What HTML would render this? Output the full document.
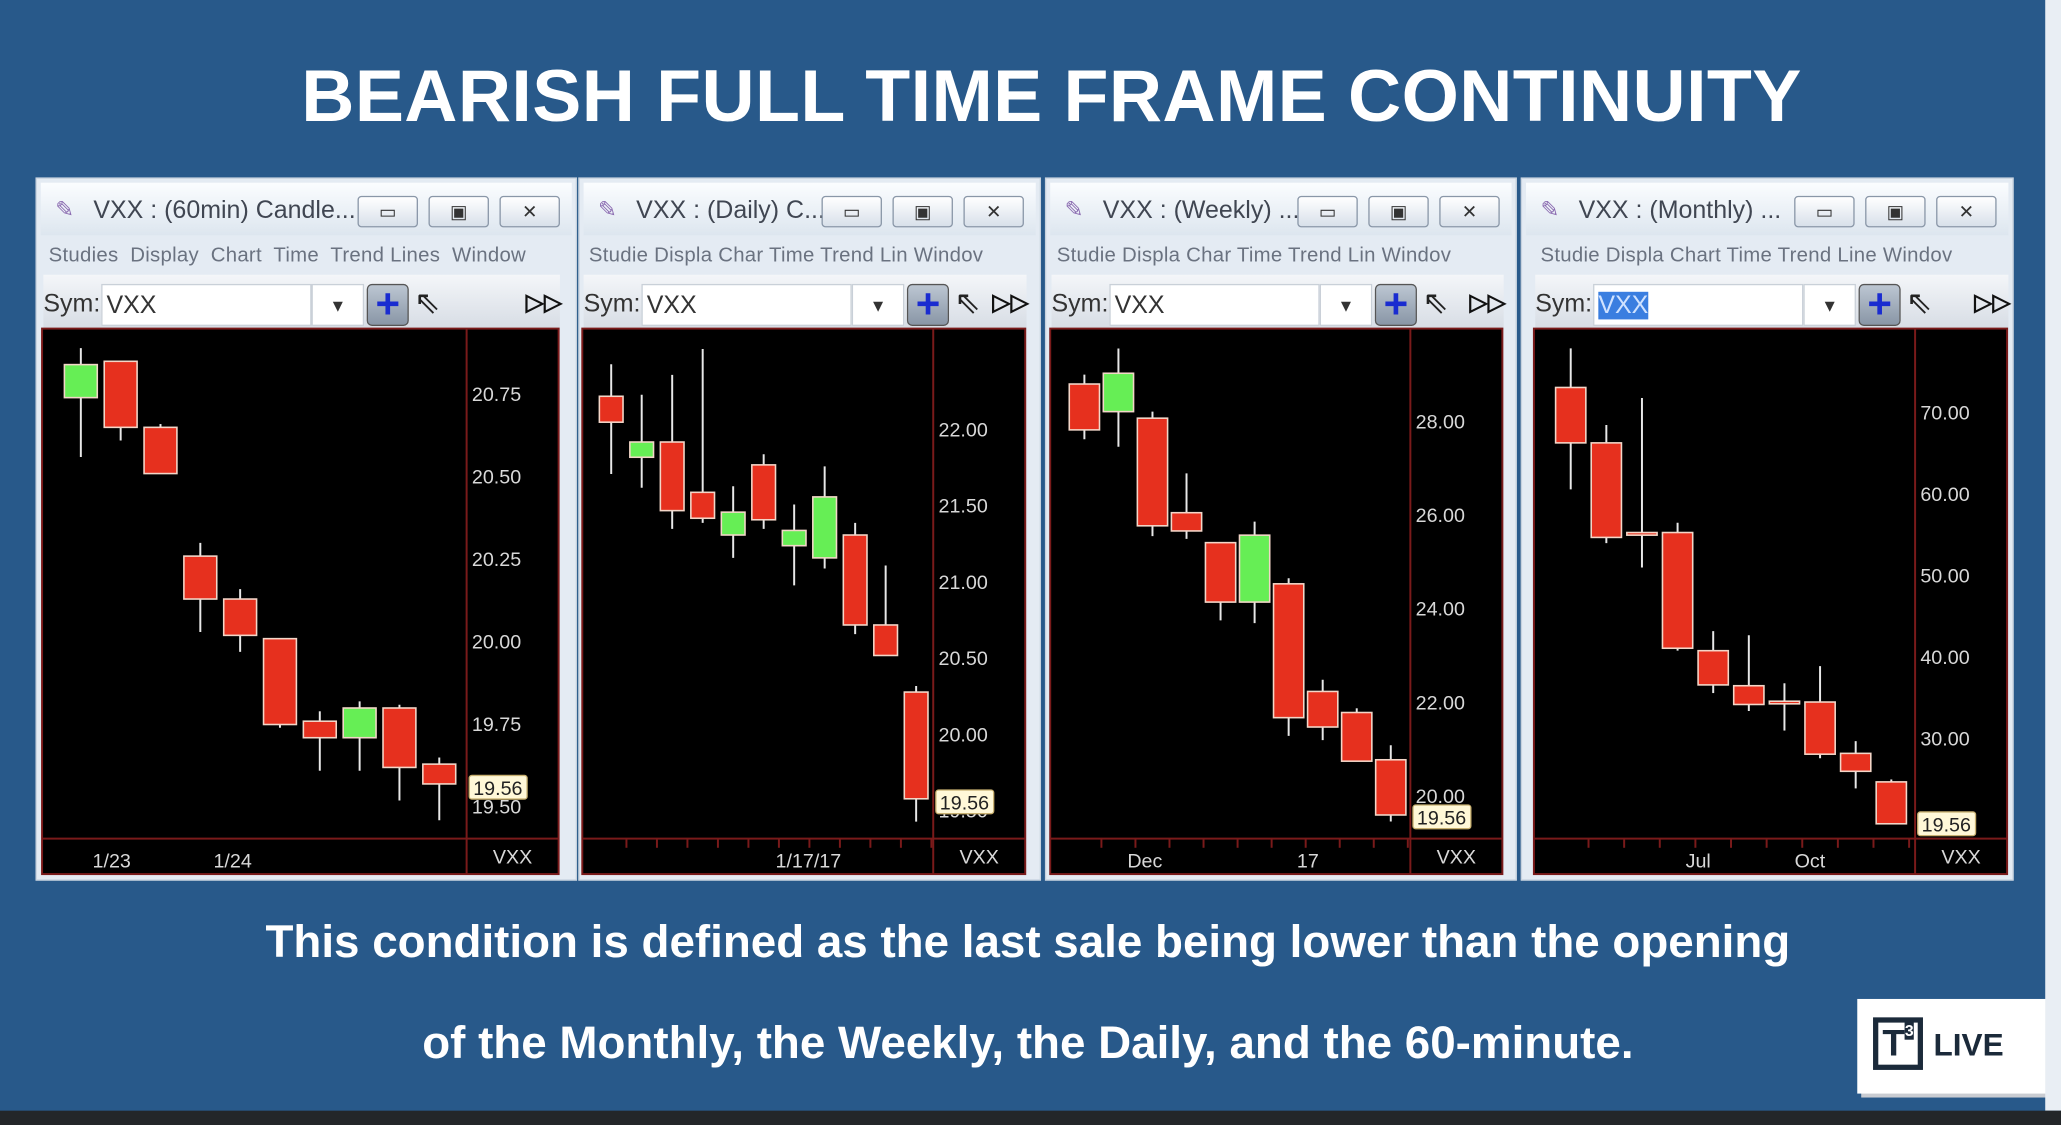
<!DOCTYPE html>
<html><head><meta charset="utf-8">
<style>
html,body{margin:0;padding:0;width:2061px;height:1125px;overflow:hidden;background:#28598a;}
#stage{position:absolute;left:0;top:0;width:1568px;height:856px;transform:scale(1.31441);transform-origin:0 0;background:#28598a;font-family:"Liberation Sans",sans-serif;}
.abs{position:absolute;}
.title{left:0;width:1600px;top:40px;text-align:center;color:#fff;font-weight:bold;font-size:56px;letter-spacing:0.3px;}
.cap{left:0;width:1564px;text-align:center;color:#fff;font-weight:bold;font-size:34.8px;}
.frame{background:#e4ebf3;border:1px solid #c7d2de;}
.tbar{background:linear-gradient(#fbfdff,#dde6ef);}
.ttxt{font-size:19px;color:#404652;white-space:nowrap;}
.btn{width:44px;height:22px;border:1px solid #8a97a8;border-radius:3px;background:linear-gradient(#fff,#d8e0ea);text-align:center;font-size:14px;color:#333;line-height:22px;}
.menu{font-size:15.5px;color:#6a7280;white-space:nowrap;letter-spacing:0.2px;}
.sym{font-size:19px;color:#333;}
.inp{background:#fff;border:1px solid #c9d0d8;height:32px;font-size:19px;color:#333;line-height:32px;padding-left:3px;box-sizing:border-box;}
.plus{width:30px;height:30px;border:1px solid #555;border-radius:4px;background:linear-gradient(#bcc6d2,#8996a6);color:#1a2cd0;font-size:32px;font-weight:bold;text-align:center;line-height:28px;}
</style></head><body>
<div id="stage">
<div class="abs title">BEARISH FULL TIME FRAME CONTINUITY</div>
<div id="panels"></div>
<svg id="charts" class="abs" style="left:0;top:0" width="1568" height="856"></svg>
<div class="abs cap" style="top:697px">This condition is defined as the last sale being lower than the opening</div>
<div class="abs cap" style="top:774px">of the Monthly, the Weekly, the Daily, and the 60-minute.</div>
<div class="abs" style="left:1413px;top:760px;width:148px;height:72px;background:#fff;box-shadow:3px 3px 0 #c9ccd2;">
  <div class="abs" style="left:12px;top:14px;width:38px;height:40px;border:4px solid #1b2a3a;box-sizing:border-box;font-weight:bold;font-size:28px;color:#1b2a3a;text-align:center;line-height:32px;">T<span style="font-size:12px;vertical-align:top;line-height:12px;background:#1b2a3a;color:#fff;">3</span></div>
  <div class="abs" style="left:58px;top:22px;font-weight:bold;font-size:24px;color:#1b2a3a;">LIVE</div>
</div>
<div class="abs" style="left:1556px;top:0;width:12px;height:845px;background:#e9eef4;"></div>
<div class="abs" style="left:0;top:845px;width:1568px;height:11px;background:#232629;"></div>
</div>
<script>
// ---- Chart data ----
const p1Open=[20.74,20.85,20.65,20.26,20.13,20.01,19.76,19.71,19.80,19.63];
const p1Close=[20.84,20.65,20.51,20.13,20.02,19.75,19.71,19.80,19.62,19.57];
const p1High=[20.89,20.85,20.66,20.30,20.16,20.01,19.79,19.82,19.81,19.65];
const p1Low=[20.56,20.61,20.51,20.03,19.97,19.74,19.61,19.61,19.52,19.46];
const p1Ticks=["20.75","20.50","20.25","20.00","19.75","19.50"];
const p1XLabels=["1/23","1/24"];

const p2Open=[22.22,21.82,21.92,21.59,21.31,21.77,21.24,21.16,21.31,20.72,20.28];
const p2Close=[22.05,21.92,21.47,21.42,21.46,21.41,21.34,21.56,20.72,20.52,19.58];
const p2High=[22.43,22.23,22.36,22.53,21.63,21.84,21.51,21.76,21.39,21.11,20.32];
const p2Low=[21.71,21.62,21.35,21.39,21.16,21.35,20.98,21.09,20.66,20.52,19.43];
const p2Ticks=["22.00","21.50","21.00","20.50","20.00","19.50"];
const p2XLabels=["1/17/17"];

const p3Open=[28.81,28.22,28.08,26.06,25.42,24.15,24.54,22.24,21.79,20.78];
const p3Close=[27.83,29.04,25.78,25.67,24.15,25.58,21.68,21.48,20.75,19.60];
const p3High=[29.01,29.57,28.22,26.90,25.42,25.87,24.66,22.49,21.88,21.09];
const p3Low=[27.63,27.47,25.56,25.50,23.76,23.70,21.29,21.20,20.75,19.46];
const p3Ticks=["28.00","26.00","24.00","22.00","20.00"];
const p3XLabels=["Dec","17"];

const p4Open=[73.1,66.3,55.3,55.3,40.8,36.5,34.6,34.5,28.2,24.7];
const p4Close=[66.3,54.7,55.3,41.1,36.6,34.2,34.3,28.1,26.0,19.56];
const p4High=[77.9,68.5,71.8,56.5,43.2,42.7,36.8,38.9,29.7,25.0];
const p4Low=[60.6,54.0,51.0,40.8,35.6,33.4,31.0,27.6,23.9,19.5];
const p4Ticks=["70.00","60.00","50.00","40.00","30.00"];
const p4XLabels=["Jul","Oct"];

const lastPrice="19.56";

const NS="http://www.w3.org/2000/svg";
const svg=document.getElementById('charts');
const panelsDiv=document.getElementById('panels');

const panels=[
 {x:27,w:410,cl:32,cr:425,sep:355,title:"VXX : (60min) Candle...",menu:"Studies&nbsp; Display&nbsp; Chart&nbsp; Time&nbsp; Trend Lines&nbsp; Window",
  o:p1Open,c:p1Close,h:p1High,l:p1Low,ticks:p1Ticks,xl:p1XLabels,xlx:[85,177],
  v0:20.75,y0:300,k:251.2,x0:61.5,dx:30.3,bw:25},
 {x:440,w:350,cl:443,cr:780,sep:710,title:"VXX : (Daily) C...",menu:"Studie Displa Char Time Trend Lin Windov",
  o:p2Open,c:p2Close,h:p2High,l:p2Low,ticks:p2Ticks,xl:p2XLabels,xlx:[615],
  v0:22,y0:327,k:116,x0:465,dx:23.2,bw:18,ticksX:true},
 {x:795,w:357,cl:799,cr:1143,sep:1073,title:"VXX : (Weekly) ...",menu:"Studie Displa Char Time Trend Lin Windov",
  o:p3Open,c:p3Close,h:p3High,l:p3Low,ticks:p3Ticks,xl:p3XLabels,xlx:[871,995],
  v0:28,y0:321,k:35.6,x0:825,dx:25.9,bw:23,ticksX:true},
 {x:1157,w:373,cl:1167,cr:1527,sep:1457,title:"VXX : (Monthly) ...",menu:"Studie Displa Chart Time Trend Line Windov",
  o:p4Open,c:p4Close,h:p4High,l:p4Low,ticks:p4Ticks,xl:p4XLabels,xlx:[1292,1377],
  v0:70,y0:314,k:6.2,x0:1195,dx:27.1,bw:23,ticksX:true,sel:true}
];

function mk(tag,attrs,parent){const e=document.createElementNS(NS,tag);for(const a in attrs)e.setAttribute(a,attrs[a]);(parent||svg).appendChild(e);return e;}

panels.forEach((p,pi)=>{
  const f=document.createElement('div');
  f.className='abs frame';
  f.style.cssText=`left:${p.x}px;top:135px;width:${p.w}px;height:533px;`;
  
  
  const W=p.w;
  f.innerHTML=`
  <div class="abs tbar" style="left:3px;top:3px;width:${W-6}px;height:40px;"></div>
  <div class="abs" style="left:14px;top:14px;font-size:17px;color:#8a6ab0;">&#x270E;</div>
  <div class="abs ttxt" style="left:43px;top:14px;">${p.title}</div>
  <div class="abs btn" style="left:${W-166}px;top:13px;">&#x25AD;</div>
  <div class="abs btn" style="left:${W-112}px;top:13px;">&#x25A3;</div>
  <div class="abs btn" style="left:${W-58}px;top:13px;">&#x2715;</div>
  <div class="abs menu" style="left:${p.cl-p.x+4}px;top:50px;">${p.menu}</div>
  <div class="abs" style="left:${p.cl-p.x}px;top:73px;width:${p.cr-p.cl}px;height:42px;background:linear-gradient(#f4f6f9,#d6dce4);"></div>
  <div class="abs sym" style="left:${p.cl-p.x}px;top:85px;">Sym:</div>
  <div class="abs inp" style="left:${p.cl-p.x+44}px;top:80px;width:160px;">${p.sel?'<span style="background:#3a7ee0;color:#cfe2ff">VXX</span>':'VXX'}</div>
  <div class="abs inp" style="left:${p.cl-p.x+204}px;top:80px;width:40px;font-size:13px;text-align:center;padding:0">&#x25BC;</div>
  <div class="abs plus" style="left:${p.cl-p.x+246}px;top:80px;">+</div>
  <div class="abs" style="left:${p.cl-p.x+282}px;top:80px;font-size:24px;color:#222;">&#x21D6;</div>
  <div class="abs" style="left:${p.cr-p.x-26}px;top:84px;font-size:18px;color:#111;font-weight:bold;">&#x25B7;&#x25B7;</div>`;
  panelsDiv.appendChild(f);

  const g=mk('g',{});
  
  
  mk('rect',{x:p.cl,y:250,width:p.cr-p.cl,height:415,fill:'#000',stroke:'#7a1a1a','stroke-width':1.5},g);
  mk('line',{x1:p.cl,x2:p.cr,y1:638,y2:638,stroke:'#7a1a1a','stroke-width':1.5},g);
  mk('line',{x1:p.sep,x2:p.sep,y1:250,y2:665,stroke:'#7a1a1a','stroke-width':1.5},g);
  const y=v=>p.y0+(p.v0-v)*p.k;
  const xi=i=>p.x0+i*p.dx;
  p.ticks.forEach(t=>{
    const tx=mk('text',{x:p.sep+4,y:y(parseFloat(t))+5,fill:'#d8d8d8','font-size':15,'font-family':'Liberation Sans, sans-serif'},g);
    tx.textContent=t;
    
    
  });
  if(p.ticksX){
    for(let i=0;i<p.o.length;i++){mk('line',{x1:xi(i)+p.dx/2,x2:xi(i)+p.dx/2,y1:638,y2:645,stroke:'#7a1a1a','stroke-width':1.5},g);}
  }
  p.xl.forEach((t,i)=>{
    const tx=mk('text',{x:p.xlx[i],y:660,fill:'#d8d8d8','font-size':15,'text-anchor':'middle','font-family':'Liberation Sans, sans-serif'},g);
    tx.textContent=t;
    
    
  });
  const vx=mk('text',{x:p.sep+(p.cr-p.sep)/2,y:657,fill:'#d8d8d8','font-size':15,'text-anchor':'middle','font-family':'Liberation Sans, sans-serif'},g);
  vx.textContent='VXX';
  
  
  for(let i=0;i<p.o.length;i++){
    const cx=xi(i);
    const up=p.c[i]>p.o[i];
    const w=mk('line',{x1:cx,x2:cx,y1:y(p.h[i]),y2:y(p.l[i]),stroke:'#e8e8e8','stroke-width':1.5},g);
    
    
    const top=y(Math.max(p.o[i],p.c[i])), bot=y(Math.min(p.o[i],p.c[i]));
    const r=mk('rect',{x:cx-p.bw/2,y:top,width:p.bw,height:Math.max(bot-top,2),fill:up?'#66ee55':'#e6301e',stroke:'#f3d6c8','stroke-width':1.2},g);
    
    
  }
  const ly=y(parseFloat(lastPrice));
  mk('rect',{x:p.sep+2,y:ly-9,width:44,height:18,fill:'#fff8d8',stroke:'#c8b070','stroke-width':1,rx:2},g);
  const lt=mk('text',{x:p.sep+5,y:ly+6,fill:'#222','font-size':15,'font-family':'Liberation Sans, sans-serif'},g);
  lt.textContent=lastPrice;
  
  
});
</script>
</body></html>
